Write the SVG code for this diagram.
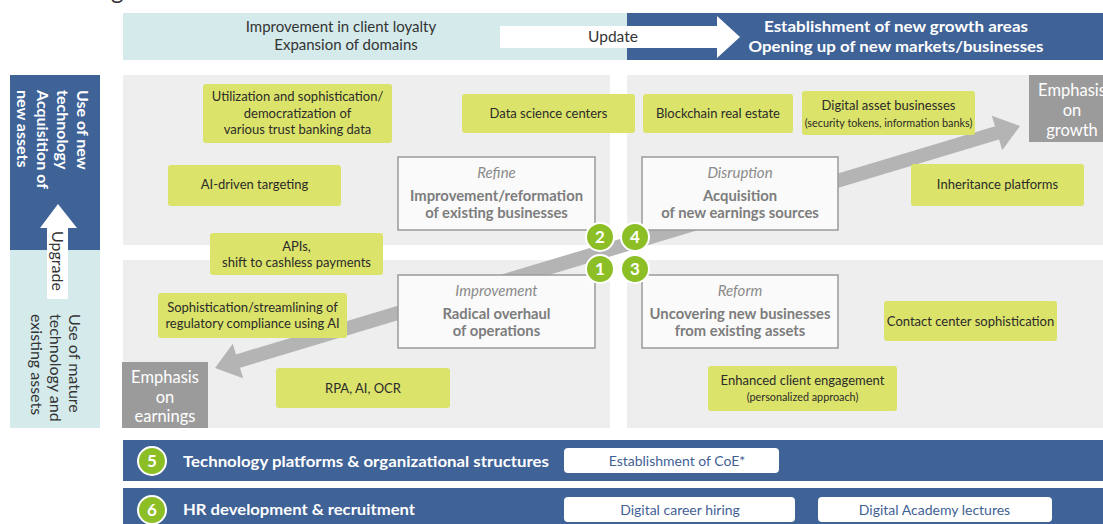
<svg xmlns="http://www.w3.org/2000/svg" width="1103" height="524" viewBox="0 0 1103 524">
  <defs>
    <style>
      text { font-family: Lato, "Liberation Sans", sans-serif; }
      .panel { fill: #eeeeee; }
      .navy { fill: #3f6297; }
      .teal { fill: #d4eaeb; }
      .green rect { fill: #dbe36a; }
      .green text { font-size: 13px; fill: #2b2b2b; text-anchor: middle; }
      .green .small { font-size: 10.8px; }
      .quad rect { fill: #fafafa; stroke: #9a9a9a; stroke-width: 1.5; }
      .quad .kind { font-size: 15px; font-style: italic; fill: #8a8a8a; text-anchor: middle; }
      .quad .title { font-size: 14.8px; font-weight: bold; fill: #7d7d7d; text-anchor: middle; }
      .emph rect { fill: #9b9b9b; }
      .emph text { font-size: 16.5px; fill: #ffffff; text-anchor: middle; }
      .num circle { fill: #8cbf26; stroke: #ffffff; stroke-width: 2; }
      .num text { font-size: 17px; font-weight: bold; fill: #ffffff; text-anchor: middle; }
      .bar-label { font-size: 15px; font-weight: bold; fill: #ffffff; }
      .pill rect { fill: #ffffff; }
      .pill text { font-size: 14px; fill: #3f5f95; text-anchor: middle; }
    </style>
  </defs>

  <!-- heading remnant -->
  <text x="111" y="-1" font-size="24" fill="#333333">g</text>

  <!-- top band -->
  <g id="top-band">
    <rect class="teal" x="123" y="13" width="504" height="47"/>
    <rect class="navy" x="627" y="13" width="476" height="47"/>
    <text x="341" y="32" font-size="15" fill="#333333" text-anchor="middle">Improvement in client loyalty</text>
    <text x="346" y="50" font-size="15" fill="#333333" text-anchor="middle">Expansion of domains</text>
    <text x="896" y="32" font-size="16" font-weight="bold" fill="#ffffff" text-anchor="middle" textLength="264" lengthAdjust="spacingAndGlyphs">Establishment of new growth areas</text>
    <text x="896" y="52" font-size="16" font-weight="bold" fill="#ffffff" text-anchor="middle" textLength="295" lengthAdjust="spacingAndGlyphs">Opening up of new markets/businesses</text>
  </g>
  <g id="update-arrow">
    <polygon points="500,26 717,26 717,16 740,37 717,58 717,48 500,48" fill="#ffffff"/>
    <text x="613" y="42" font-size="15.5" fill="#333333" text-anchor="middle">Update</text>
  </g>

  <!-- left axis -->
  <g id="left-axis">
    <rect class="navy" x="10" y="75" width="90" height="175"/>
    <rect class="teal" x="10" y="250" width="90" height="178"/>
    <text transform="translate(77,90) rotate(90)" font-size="16" font-weight="bold" fill="#ffffff">
      <tspan x="0" y="0">Use of new</tspan>
      <tspan x="0" y="20">technology</tspan>
      <tspan x="0" y="40">Acquisition of</tspan>
      <tspan x="0" y="60">new assets</tspan>
    </text>
    <text transform="translate(69,314) rotate(90)" font-size="16" fill="#333333">
      <tspan x="0" y="0">Use of mature</tspan>
      <tspan x="0" y="19">technology and</tspan>
      <tspan x="0" y="38">existing assets</tspan>
    </text>
  </g>
  <g id="upgrade-arrow">
    <polygon points="58,204 77,228 68,228 68,299 47,299 47,228 40,228" fill="#ffffff"/>
    <text transform="translate(52,231) rotate(90)" font-size="16" fill="#333333">Upgrade</text>
  </g>

  <!-- quadrant panels -->
  <g id="panels">
    <rect class="panel" x="123" y="75" width="487" height="170"/>
    <rect class="panel" x="627" y="75" width="476" height="170"/>
    <rect class="panel" x="123" y="260" width="487" height="168"/>
    <rect class="panel" x="627" y="260" width="476" height="168"/>
  </g>

  <!-- connectors -->
  <g id="connectors">
    <polygon id="growth-axis" fill="#b4b4b4" points="215,368 243.16,378.33 240,367.79 999.04,139.61 1002.2,150.15 1020,126 991.84,115.67 995,126.21 235.96,354.39 232.8,343.85"/>
  </g>

  <!-- emphasis labels -->
  <g id="emphasis-growth" class="emph">
    <rect x="1029" y="75" width="74" height="67"/>
    <text x="1072" y="96">Emphasis</text>
    <text x="1072" y="116">on</text>
    <text x="1072" y="136">growth</text>
  </g>
  <g id="emphasis-earnings" class="emph">
    <rect x="122" y="362" width="86" height="66"/>
    <text x="165" y="383">Emphasis</text>
    <text x="165" y="403">on</text>
    <text x="165" y="422">earnings</text>
  </g>

  <!-- quadrant titles -->
  <g id="refine" class="quad">
    <rect x="398" y="157" width="197" height="73"/>
    <text class="kind" x="496.5" y="178">Refine</text>
    <text class="title" x="496.5" y="201">Improvement/reformation</text>
    <text class="title" x="496.5" y="218">of existing businesses</text>
  </g>
  <g id="disruption" class="quad">
    <rect x="642" y="157" width="196" height="73"/>
    <text class="kind" x="740" y="178">Disruption</text>
    <text class="title" x="740" y="201">Acquisition</text>
    <text class="title" x="740" y="218">of new earnings sources</text>
  </g>
  <g id="improvement" class="quad">
    <rect x="398" y="275" width="197" height="73"/>
    <text class="kind" x="496.5" y="296">Improvement</text>
    <text class="title" x="496.5" y="319">Radical overhaul</text>
    <text class="title" x="496.5" y="336">of operations</text>
  </g>
  <g id="reform" class="quad">
    <rect x="642" y="275" width="196" height="73"/>
    <text class="kind" x="740" y="296">Reform</text>
    <text class="title" x="740" y="319">Uncovering new businesses</text>
    <text class="title" x="740" y="336">from existing assets</text>
  </g>

  <!-- initiatives -->
  <g id="trust-data" class="green">
    <rect x="203" y="84" width="189" height="59" rx="3"/>
    <text x="297.5" y="101">Utilization and sophistication/</text>
    <text x="297.5" y="118">democratization of</text>
    <text x="297.5" y="134">various trust banking data</text>
  </g>
  <g id="data-science" class="green">
    <rect x="462" y="94" width="173" height="39" rx="3"/>
    <text x="548.5" y="118">Data science centers</text>
  </g>
  <g id="blockchain" class="green">
    <rect x="643" y="94" width="150" height="39" rx="3"/>
    <text x="718" y="118">Blockchain real estate</text>
  </g>
  <g id="digital-asset" class="green">
    <rect x="802" y="91" width="173" height="44" rx="3"/>
    <text x="888.5" y="110">Digital asset businesses</text>
    <text class="small" x="888.5" y="127">(security tokens, information banks)</text>
  </g>
  <g id="ai-targeting" class="green">
    <rect x="168" y="165" width="173" height="41" rx="3"/>
    <text x="254.5" y="189">AI-driven targeting</text>
  </g>
  <g id="inheritance" class="green">
    <rect x="911" y="164" width="173" height="42" rx="3"/>
    <text x="997.5" y="189">Inheritance platforms</text>
  </g>
  <g id="apis" class="green">
    <rect x="210" y="233" width="173" height="42" rx="3"/>
    <text x="296.5" y="251">APIs,</text>
    <text x="296.5" y="267">shift to cashless payments</text>
  </g>
  <g id="compliance" class="green">
    <rect x="158" y="293" width="189" height="45" rx="3"/>
    <text x="252.5" y="312">Sophistication/streamlining of</text>
    <text x="252.5" y="328">regulatory compliance using AI</text>
  </g>
  <g id="rpa" class="green">
    <rect x="276" y="368" width="174" height="40" rx="3"/>
    <text x="363" y="393">RPA, AI, OCR</text>
  </g>
  <g id="contact-center" class="green">
    <rect x="884" y="301" width="173" height="40" rx="3"/>
    <text x="970.5" y="326">Contact center sophistication</text>
  </g>
  <g id="engagement" class="green">
    <rect x="708" y="366" width="189" height="45" rx="3"/>
    <text x="802.5" y="385">Enhanced client engagement</text>
    <text class="small" x="802.5" y="401">(personalized approach)</text>
  </g>

  <!-- quadrant numbers -->
  <g id="n2" class="num"><circle cx="600" cy="237" r="14"/><text x="600" y="243">2</text></g>
  <g id="n4" class="num"><circle cx="635" cy="237" r="14"/><text x="635" y="243">4</text></g>
  <g id="n1" class="num"><circle cx="600" cy="269" r="14"/><text x="600" y="275">1</text></g>
  <g id="n3" class="num"><circle cx="635" cy="269" r="14"/><text x="635" y="275">3</text></g>

  <!-- foundations -->
  <g id="tech-platforms">
    <rect class="navy" x="123" y="440" width="980" height="41"/>
    <g class="num"><circle cx="152" cy="461" r="14"/><text x="152" y="467">5</text></g>
    <text class="bar-label" x="183" y="467" textLength="366" lengthAdjust="spacingAndGlyphs">Technology platforms &amp; organizational structures</text>
    <g class="pill">
      <rect x="564" y="448" width="215" height="25" rx="4"/>
      <text x="677" y="466">Establishment of CoE*</text>
    </g>
  </g>
  <g id="hr">
    <rect class="navy" x="123" y="488" width="980" height="36"/>
    <g class="num"><circle cx="152" cy="510" r="14"/><text x="152" y="516">6</text></g>
    <text class="bar-label" x="183" y="515" textLength="232" lengthAdjust="spacingAndGlyphs">HR development &amp; recruitment</text>
    <g class="pill">
      <rect x="564" y="497" width="231" height="25" rx="4"/>
      <text x="680" y="515">Digital career hiring</text>
    </g>
    <g class="pill">
      <rect x="818" y="497" width="234" height="25" rx="4"/>
      <text x="934.5" y="515">Digital Academy lectures</text>
    </g>
  </g>
</svg>
